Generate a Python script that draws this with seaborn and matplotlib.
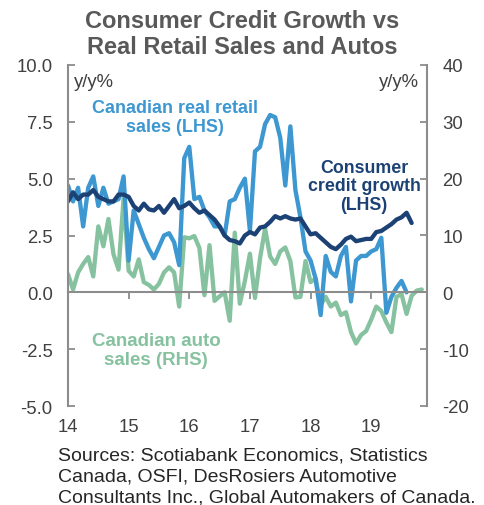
import numpy as np
import pandas as pd
import matplotlib
matplotlib.use("Agg")
import matplotlib.pyplot as plt
import seaborn as sns

# Monthly series, starting January 2014 (y/y % change)
start_year = 2014
retail_sales = [
    4.7, 4.0, 4.6, 2.9, 4.6, 5.1, 3.8, 4.6, 3.9, 4.0, 4.1, 5.1,
    1.4, 3.6, 3.0, 2.4, 1.9, 1.5, 2.0, 2.5, 2.6, 2.2, 1.2, 5.9,
    6.4, 4.1, 4.2, 3.6, 3.3, 2.9, 2.9, 2.5, 4.0, 4.1, 4.6, 5.0,
    2.7, 6.2, 6.4, 7.4, 7.8, 7.7, 6.8, 4.7, 7.3, 4.5, 3.3, 1.8,
    1.4, 0.6, -1.0, 1.6, 0.9, 0.7, 1.6, 2.0, -0.4, 1.4, 1.6, 1.6,
    1.8, 1.9, 2.4, -0.9, -0.2, 0.2, 0.5, 0.0,
]
consumer_credit = [
    4.0, 4.4, 4.1, 4.3, 4.3, 4.5, 4.2, 4.1, 4.0, 4.0, 4.3, 4.3,
    4.2, 3.8, 3.6, 3.9, 3.65, 3.6, 3.8, 3.5, 3.8, 4.1, 3.7, 3.8,
    3.95, 3.7, 3.5, 3.6, 3.4, 3.2, 2.9, 2.5, 2.3, 2.25, 2.15, 2.5,
    2.65, 2.55, 2.85, 2.9, 3.1, 3.35, 3.25, 3.35, 3.25, 3.2, 3.25, 2.9,
    2.55, 2.6, 2.4, 2.2, 2.0, 1.9, 2.1, 2.35, 2.45, 2.25, 2.3, 2.35,
    2.35, 2.65, 2.7, 2.85, 3.0, 3.2, 3.3, 3.5, 3.05,
]
auto_sales = [
    3.2, 0.5, 3.5, 5.0, 6.2, 2.8, 11.6, 8.1, 12.9, 6.7, 4.0, 16.6,
    3.8, 2.8, 5.8, 1.8, 1.3, 0.5, 1.5, 3.5, 4.4, 3.5, -2.5, 9.7,
    9.5, 9.9, 7.8, -0.5, 8.3, -1.5, -0.7, 0.0, -5.0, 10.5, -2.0, 2.0,
    6.8, -1.0, 6.0, 11.2, 6.3, 5.0, 7.2, 7.9, 5.5, -0.9, -0.8, 5.5,
    1.8, 2.4, -2.2, -0.8, -2.5, -1.8, -4.0, -3.5, -7.0, -9.0, -7.5, -6.8,
    -4.8, -2.5, -3.3, -5.3, -7.0, -0.8, -0.3, -3.8, -0.6, 0.3, 0.5,
]

year_ticks = [2014, 2015, 2016, 2017, 2018, 2019]
year_labels = ["14", "15", "16", "17", "18", "19"]
lhs_ticks = [-5.0, -2.5, 0.0, 2.5, 5.0, 7.5, 10.0]
rhs_ticks = [-20, -10, 0, 10, 20, 30, 40]

RETAIL_C = "#3d97d0"
CREDIT_C = "#1c4275"
AUTO_C = "#86c29f"
AXIS_C = "#8c8c8c"
TEXT_C = "#404040"


def monthly(values):
    return pd.DataFrame({
        "t": start_year + np.arange(len(values)) / 12.0,
        "v": values,
    })


sns.set_theme(style="white")
plt.rcParams["font.family"] = ["Liberation Sans", "DejaVu Sans"]

W, H = 484, 506
fig = plt.figure(figsize=(W / 100, H / 100), dpi=100)


def fx(px):
    return px / W


def fy(py):
    return 1 - py / H


ax = fig.add_axes([fx(68), fy(407), fx(427) - fx(68), fy(66) - fy(407)])
ax2 = ax.twinx()
# autos (RHS) sit underneath the LHS series
ax.set_zorder(ax2.get_zorder() + 1)
ax.patch.set_visible(False)

sns.lineplot(data=monthly(auto_sales), x="t", y="v", ax=ax2,
             color=AUTO_C, lw=3.1, legend=False)
sns.lineplot(data=monthly(retail_sales), x="t", y="v", ax=ax,
             color=RETAIL_C, lw=3.1, legend=False)
sns.lineplot(data=monthly(consumer_credit), x="t", y="v", ax=ax,
             color=CREDIT_C, lw=3.1, legend=False)

ax.set_xlim(2014, 2019.92)
ax.set_ylim(-5, 10)
ax2.set_ylim(-20, 40)
for a in (ax, ax2):
    a.set_xlabel("")
    a.set_ylabel("")

# left axis
ax.set_yticks(lhs_ticks, labels=[f"{v:.1f}" for v in lhs_ticks])
ax.tick_params(axis="y", direction="in", length=5, width=1.3, color=AXIS_C,
               labelsize=13.3, labelcolor=TEXT_C, pad=11, left=True)
# right axis
ax2.set_yticks(rhs_ticks, labels=[str(v) for v in rhs_ticks])
ax2.tick_params(axis="y", direction="in", length=5, width=1.3, color=AXIS_C,
                labelsize=13.3, labelcolor=TEXT_C, pad=11, right=True)

for a in (ax, ax2):
    for s in a.spines.values():
        s.set_visible(False)
ax.spines["left"].set_visible(True)
ax.spines["left"].set_color(AXIS_C)
ax.spines["left"].set_linewidth(1.5)
ax2.spines["right"].set_visible(True)
ax2.spines["right"].set_color(AXIS_C)
ax2.spines["right"].set_linewidth(1.5)

# x axis runs along zero with year ticks
ax.spines["bottom"].set_visible(True)
ax.spines["bottom"].set_position(("data", 0))
ax.spines["bottom"].set_color(AXIS_C)
ax.spines["bottom"].set_linewidth(1.5)
ax.set_xticks(year_ticks)
ax.tick_params(axis="x", direction="out", length=5, width=1.3, color=AXIS_C,
               labelbottom=False, bottom=True)
ax2.tick_params(axis="x", bottom=False, labelbottom=False)

# year labels along the bottom edge
lab = ax.secondary_xaxis("bottom")
lab.set_xticks(year_ticks, labels=year_labels)
lab.spines["bottom"].set_visible(False)
lab.tick_params(length=0, pad=9, labelsize=13.3, labelcolor=TEXT_C)

# titles and labels
fig.text(0.5, fy(21), "Consumer Credit Growth vs", ha="center", va="center",
         fontsize=17, fontweight="bold", color="#595959")
fig.text(0.5, fy(48), "Real Retail Sales and Autos", ha="center", va="center",
         fontsize=17, fontweight="bold", color="#595959")

fig.text(fx(74), fy(83), "y/y%", ha="left", va="center", fontsize=13.3,
         color=TEXT_C)
fig.text(fx(419), fy(83), "y/y%", ha="right", va="center", fontsize=13.3,
         color=TEXT_C)

fig.text(fx(175), fy(118), "Canadian real retail\nsales (LHS)", ha="center",
         va="center", fontsize=13, fontweight="bold", color=RETAIL_C,
         linespacing=1.15)
fig.text(fx(364), fy(187), "Consumer\ncredit growth\n(LHS)", ha="center",
         va="center", fontsize=12.8, fontweight="bold", color=CREDIT_C,
         linespacing=1.15)
fig.text(fx(156), fy(351), "Canadian auto\nsales (RHS)", ha="center",
         va="center", fontsize=13.5, fontweight="bold", color=AUTO_C,
         linespacing=1.1)

fig.text(fx(58), fy(477),
         "Sources: Scotiabank Economics, Statistics\n"
         "Canada, OSFI, DesRosiers Automotive\n"
         "Consultants Inc., Global Automakers of Canada.",
         ha="left", va="center", fontsize=14, color="#262626",
         linespacing=1.28)

fig.savefig("out.png", dpi=100, facecolor="white")
